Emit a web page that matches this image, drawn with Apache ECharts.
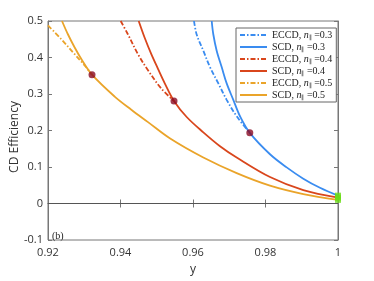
<!DOCTYPE html>
<html><head><meta charset="utf-8">
<script src="https://cdn.jsdelivr.net/npm/echarts@6/dist/echarts.min.js"></script>
<style>html,body{margin:0;padding:0;background:#fff}#c{width:374px;height:281px}</style>
</head><body><div id="c"></div>
<script>
// Data
const eccd03 = [[0.96028,0.5],[0.96101,0.463],[0.96285,0.4185],[0.96469,0.3737],[0.96699,0.329],[0.96929,0.284],[0.97205,0.239],[0.97567,0.1935]];
const scd03  = [[0.96516,0.5],[0.96561,0.463],[0.96653,0.4185],[0.96791,0.3737],[0.96929,0.329],[0.97112,0.284],[0.97297,0.239],[0.97567,0.1935],[0.98124,0.135],[0.98584,0.099],[0.99043,0.068],[0.99503,0.043],[1.0,0.0215]];
const eccd04 = [[0.94005,0.5],[0.94207,0.463],[0.94483,0.409],[0.94759,0.365],[0.95126,0.315],[0.95476,0.281]];
const scd04  = [[0.94502,0.5],[0.94667,0.454],[0.9485,0.409],[0.95034,0.369],[0.95218,0.330],[0.95476,0.281],[0.95826,0.237],[0.96285,0.195],[0.96745,0.157],[0.97205,0.126],[0.98124,0.0726],[0.99043,0.0367],[1.0,0.016]];
const eccd05 = [[0.92,0.488],[0.92368,0.450],[0.92736,0.409],[0.93012,0.378],[0.93214,0.353]];
const scd05  = [[0.92386,0.5],[0.92552,0.463],[0.92736,0.4274],[0.92919,0.396],[0.93214,0.353],[0.93839,0.293],[0.94299,0.257],[0.94759,0.223],[0.9537,0.178],[0.96285,0.126],[0.97205,0.0833],[0.98124,0.049],[0.99043,0.026],[1.0,0.010]];
const crossPoints = [[0.97567,0.1935],[0.95476,0.281],[0.93214,0.353]];
const endPoints = [[1.0,0.0215],[1.0,0.016],[1.0,0.010]];
const xTicks = {min:0.92, max:1.0, interval:0.02};
const yTicks = {min:-0.1, max:0.5, interval:0.1};
const names = ['ECCD, n=0.3','SCD, n=0.3','ECCD, n=0.4','SCD, n=0.4','ECCD, n=0.5','SCD, n=0.5'];

const BLUE='#3a8cf0', RED='#d9461c', ORANGE='#eaa42a';
const dashDot=[5,2,1.5,2];
function lineSeries(name,data,color,dashed){
  return {name:name,type:'line',data:data,smooth:0.35,symbol:'none',showSymbol:false,
    lineStyle:{color:color,width:1.8,type:dashed?dashDot:'solid'},itemStyle:{color:color},z:dashed?2:3};
}
const chart = echarts.init(document.getElementById('c'),null,{renderer:'canvas'});
const axisCol='#777';
function fmtX(v){ return v===1?'1':v.toFixed(2); }
function fmtY(v){ const r=Math.round(v*10)/10; return r===0?'0':String(r); }
chart.setOption({
  animation:false,
  grid:{left:48,right:36,top:21,bottom:37,show:true,borderColor:axisCol,borderWidth:1},
  xAxis:[{type:'value',min:xTicks.min,max:xTicks.max,interval:xTicks.interval,
    axisLine:{show:true,lineStyle:{color:axisCol}},axisTick:{inside:true,length:4,lineStyle:{color:axisCol}},
    splitLine:{show:false},
    axisLabel:{formatter:fmtX,color:'#333',fontFamily:'Open Sans',fontSize:11,margin:7},
    name:'y',nameLocation:'middle',nameGap:24,nameTextStyle:{color:'#333',fontFamily:'Open Sans',fontSize:12}},
    {type:'value',position:'top',min:xTicks.min,max:xTicks.max,interval:xTicks.interval,
    axisLine:{show:true,lineStyle:{color:axisCol}},axisTick:{inside:true,length:4,lineStyle:{color:axisCol}},
    axisLabel:{show:false},splitLine:{show:false}}],
  yAxis:[{type:'value',min:yTicks.min,max:yTicks.max,interval:yTicks.interval,
    axisLine:{show:true,lineStyle:{color:axisCol}},axisTick:{inside:true,length:4,lineStyle:{color:axisCol}},
    splitLine:{show:false},
    axisLabel:{formatter:fmtY,color:'#333',fontFamily:'Open Sans',fontSize:11,margin:5}},
    {type:'value',position:'right',min:yTicks.min,max:yTicks.max,interval:yTicks.interval,
    axisLine:{show:true,lineStyle:{color:axisCol}},axisTick:{inside:true,length:4,lineStyle:{color:axisCol}},
    axisLabel:{show:false},splitLine:{show:false}}],
  legend:{orient:'vertical',left:236,top:28,data:names,itemWidth:27,itemHeight:9,itemGap:2,
    padding:[2,4,2,3],borderColor:'#666',borderWidth:1,backgroundColor:'#fff',
    itemStyle:{opacity:0},
    formatter:function(n){const p=n.split(', n='); return '{a|'+p[0]+', }{i|n}{s|∥}{a| ='+p[1]+'}';},
    textStyle:{fontFamily:'Liberation Serif',fontSize:10,color:'#222',
      rich:{a:{fontFamily:'Liberation Serif',fontSize:10,lineHeight:9,color:'#222'},
            i:{fontFamily:'Liberation Serif',fontStyle:'italic',fontSize:10,lineHeight:9,color:'#222'},
            s:{fontFamily:'Liberation Serif',fontSize:6,lineHeight:9,padding:[4,0,0,0],color:'#222'}}}},
  graphic:[
    {type:'text',left:52,top:231,style:{text:'(b)',font:'10px "Liberation Serif"',fill:'#222'}},
    {type:'text',x:15,y:137,rotation:Math.PI/2,style:{text:'CD Efficiency',font:'12px "Open Sans"',fill:'#333',align:'center',verticalAlign:'middle'}}
  ],
  series:[
    lineSeries(names[0],eccd03,BLUE,true),
    lineSeries(names[1],scd03,BLUE,false),
    lineSeries(names[2],eccd04,RED,true),
    lineSeries(names[3],scd04,RED,false),
    lineSeries(names[4],eccd05,ORANGE,true),
    Object.assign(lineSeries(names[5],scd05,ORANGE,false),{markLine:{silent:true,symbol:'none',label:{show:false},lineStyle:{color:'#555',width:1,type:'solid'},data:[{yAxis:0}]}}),
    {type:'scatter',data:crossPoints,symbol:'circle',symbolSize:7,itemStyle:{color:'#8a0a22'},z:5,clip:false},
    {type:'scatter',data:endPoints,symbol:'rect',symbolSize:6,itemStyle:{color:'#6cdc18'},z:6,clip:false}
  ]
});
</script></body></html>
